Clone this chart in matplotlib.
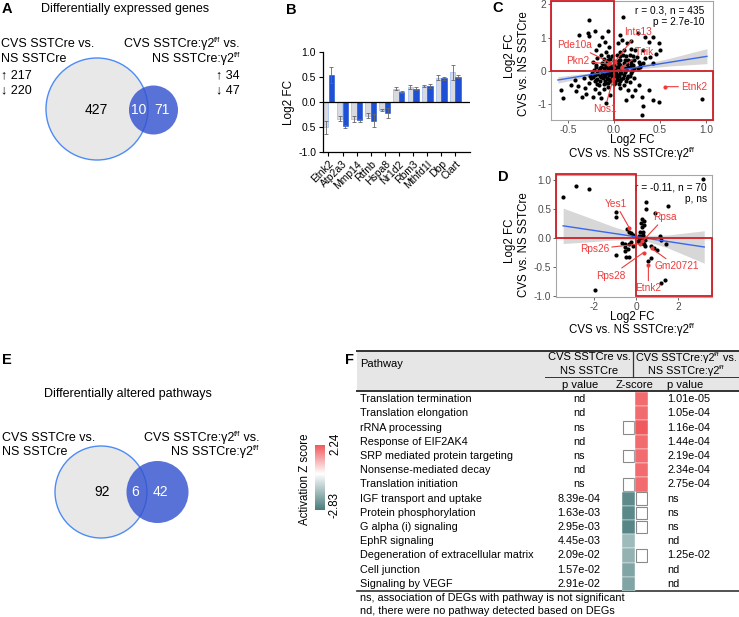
import numpy as np
import matplotlib
matplotlib.use('Agg')
import matplotlib.pyplot as plt
from matplotlib.patches import Circle, Rectangle
from matplotlib.colors import LinearSegmentedColormap, TwoSlopeNorm

plt.rcParams['font.family'] = ['Liberation Sans', 'DejaVu Sans']

# ---------------- data ----------------
# Panel A (Venn of DEGs)
deg_only_sst = 427
deg_shared = 10
deg_only_g2 = 71
deg_sst_up, deg_sst_down = 217, 220
deg_g2_up, deg_g2_down = 34, 47

# Panel B
genes = ['Etnk2', 'Atp2a3', 'Mmp14', 'Rtfnb', 'Hspa8', 'Nr1d2', 'Rbm3', 'Mthfd1l', 'Dbp', 'Ciart']
fc_sst = [-0.50, -0.33, -0.33, -0.27, -0.15, 0.27, 0.31, 0.33, 0.49, 0.60]
err_sst = [0.13, 0.05, 0.06, 0.05, 0.02, 0.03, 0.04, 0.02, 0.05, 0.15]
fc_g2 = [0.55, -0.48, -0.36, -0.37, -0.22, 0.20, 0.27, 0.33, 0.48, 0.51]
err_g2 = [0.16, 0.03, 0.03, 0.13, 0.10, 0.02, 0.03, 0.04, 0.03, 0.03]
b_yticks = [-1.0, -0.5, 0.0, 0.5, 1.0]
b_yticklabels = ['-1.0', '0.5', '0.0', '0.5', '1.0']

# Panel C scatter (x: CVS vs NS SSTCre:g2f/f, y: CVS vs NS SSTCre)
c_pts = [
    (0.10, 1.63), (-0.27, 1.53), (-0.21, 1.21), (-0.38, 1.08), (-0.28, 1.13), (-0.27, 1.05),
    (-0.07, 1.20), (-0.13, 1.01), (-0.10, 0.88), (-0.16, 0.78), (-0.05, 0.73), (-0.20, 0.63),
    (-0.09, 0.58), (-0.14, 0.48), (-0.06, 0.45), (-0.18, 0.38), (-0.11, 0.35), (-0.04, 0.35),
    (-0.08, 0.28), (-0.13, 0.23), (-0.09, 0.18), (-0.04, 0.18), (-0.14, 0.13), (-0.07, 0.10),
    (-0.02, 0.08), (-0.11, 0.08), (-0.20, 0.18), (-0.23, 0.28),
    (0.07, 1.08), (0.09, 0.93), (0.04, 0.83), (0.14, 0.83), (0.19, 0.90), (0.26, 1.13),
    (0.34, 1.01), (0.42, 1.03), (0.38, 0.88), (0.49, 0.85), (0.50, 0.63), (0.46, 0.51),
    (0.32, 0.63), (0.23, 0.63), (0.18, 0.65), (0.11, 0.63), (0.06, 0.58), (0.03, 0.48),
    (0.10, 0.48), (0.17, 0.48), (0.25, 0.43), (0.34, 0.38), (0.39, 0.43), (0.22, 0.33),
    (0.15, 0.33), (0.07, 0.33), (0.03, 0.28), (0.11, 0.23), (0.18, 0.21), (0.27, 0.28),
    (0.32, 0.23), (0.06, 0.18), (0.15, 0.13), (0.03, 0.13), (0.22, 0.08), (0.10, 0.08),
    (0.01, 0.03), (0.42, 0.23), (0.28, 0.13),
    (-0.58, -0.57), (-0.55, -0.82), (-0.47, -0.42), (-0.39, -0.45), (-0.41, -0.59), (-0.32, -0.52),
    (-0.30, -0.69), (-0.23, -0.79), (-0.21, -0.55), (-0.14, -0.82), (-0.16, -0.65), (-0.09, -0.95),
    (-0.35, -0.77), (-0.27, -0.35), (-0.20, -0.27), (-0.14, -0.19), (-0.11, -0.12), (-0.06, -0.07),
    (-0.16, -0.42), (-0.09, -0.35), (-0.06, -0.49), (-0.11, -0.55), (-0.04, -0.27), (-0.08, -0.22),
    (-0.02, -0.15), (-0.18, -0.09), (-0.23, -0.17), (-0.04, -0.72), (-0.42, -0.27), (-0.33, -0.22),
    (0.13, -0.87), (0.20, -0.75), (0.23, -0.57), (0.30, -0.77), (0.38, -0.57), (0.32, -1.05),
    (0.42, -0.87), (0.30, -1.32), (0.49, -0.92), (0.96, -0.85), (0.17, -0.32), (0.11, -0.42),
    (0.06, -0.52), (0.15, -0.57), (0.04, -0.27), (0.10, -0.22), (0.03, -0.12), (0.08, -0.07),
    (0.15, -0.15), (0.22, -0.22), (0.01, -0.37), (0.27, -0.42),
    (-0.20, 0.11), (-0.15, 0.09), (-0.09, 0.12), (-0.03, 0.10), (0.04, 0.11), (0.12, 0.09),
    (0.19, 0.12), (0.26, 0.10), (-0.22, 0.02), (-0.16, 0.03), (-0.10, 0.01), (-0.05, 0.03),
    (0.00, 0.01), (0.06, 0.03), (0.13, 0.02), (0.20, 0.01), (-0.24, -0.06), (-0.19, -0.05),
    (-0.13, -0.07), (-0.08, -0.05), (-0.03, -0.06), (0.02, -0.05), (0.07, -0.06), (0.12, -0.04),
    (0.18, -0.07), (-0.26, -0.14), (-0.21, -0.13), (-0.15, -0.15), (-0.10, -0.14), (-0.05, -0.13),
    (0.00, -0.15), (0.05, -0.14), (0.11, -0.13), (0.17, -0.15), (-0.25, -0.22), (-0.18, -0.23),
    (-0.12, -0.21), (-0.07, -0.23), (-0.02, -0.22), (0.03, -0.21), (0.08, -0.23), (0.14, -0.22),
    (-0.21, -0.30), (-0.15, -0.31), (-0.10, -0.29), (-0.04, -0.30), (0.01, -0.31), (0.07, -0.29),
    (0.13, -0.30), (-0.18, -0.38), (-0.11, -0.39), (-0.06, -0.37), (0.00, -0.38), (0.05, -0.39),
    (-0.12, 0.20), (-0.06, 0.21), (0.00, 0.19), (0.05, 0.21), (0.14, 0.20), (0.21, 0.19),
    (0.28, 0.21), (-0.07, 0.32), (0.00, 0.31), (0.05, 0.33), (0.12, 0.32), (0.19, 0.31),
    (-0.02, 0.45), (0.06, 0.44), (0.13, 0.46), (0.21, 0.45),
]
c_hl_names = ['Pde10a', 'Pkn2', 'Ints13', 'Tnik', 'Nos1', 'Etnk2']
c_hl_x = [-0.04, -0.06, 0.01, 0.09, -0.01, 0.55]
c_hl_y = [0.25, 0.21, 0.28, 0.13, -0.24, -0.47]
c_fit_x = [-0.61, -0.3, 0.0, 0.3, 0.6, 1.01]
c_fit_y = [-0.27, -0.13, 0.0, 0.13, 0.26, 0.44]
c_fit_lo = [-0.36, -0.19, -0.03, 0.07, 0.15, 0.22]
c_fit_hi = [-0.17, -0.07, 0.03, 0.19, 0.38, 0.67]

# Panel D scatter
d_pts = [
    (-3.47, 0.71), (-2.84, 0.90), (-2.25, 0.84), (-0.94, 0.44), (-0.94, 0.37), (3.17, 1.01),
    (0.48, 0.62), (1.53, 0.56), (0.48, 0.50), (0.91, 0.43), (0.28, 0.32), (0.36, 0.29),
    (0.25, 0.26), (0.36, 0.23), (0.28, 0.19), (-0.42, 0.16), (-0.34, 0.11), (-0.22, 0.09),
    (-0.16, 0.06), (0.20, 0.10), (0.31, 0.11), (0.13, 0.04), (0.25, 0.03), (0.36, 0.00),
    (0.20, -0.03), (0.44, -0.04), (-0.69, -0.09), (-0.50, -0.10), (-0.31, -0.11), (-0.53, -0.16),
    (-0.38, -0.19), (-0.16, -0.14), (-0.22, -0.07), (-0.97, -0.30), (-0.47, -0.33), (-0.34, -0.33),
    (-0.50, -0.23), (0.44, -0.13), (0.72, -0.14), (0.88, -0.17), (0.98, -0.20), (0.59, -0.39),
    (0.72, -0.34), (1.14, 0.03), (1.19, -0.04), (1.45, -0.11), (1.19, -0.78), (1.38, -0.72),
    (-1.94, -0.90), (0.28, -0.09), (0.16, -0.07), (0.38, -0.11), (0.15, 0.00), (0.25, -0.02),
    (0.32, 0.05), (0.10, -0.05), (0.35, -0.08),
]
d_hl_names = ['Yes1', 'Rpsa', 'Rps26', 'Rps28', 'Gm20721', 'Etnk2']
d_hl_x = [-0.31, 0.30, 0.20, 0.36, 0.74, 0.59]
d_hl_y = [0.17, -0.06, -0.10, -0.25, -0.18, -0.46]
d_fit_x = [-3.47, -2.0, -1.0, 0.0, 0.5, 1.5, 3.25]
d_fit_y = [0.21, 0.13, 0.076, 0.022, -0.005, -0.059, -0.155]
d_fit_hw = [0.305, 0.19, 0.11, 0.055, 0.05, 0.11, 0.28]

# Panel E (Venn of pathways)
pw_only_sst = 92
pw_shared = 6
pw_only_g2 = 42

# Panel F table
pathways = ['Translation termination', 'Translation elongation', 'rRNA processing',
            'Response of EIF2AK4', 'SRP mediated protein targeting', 'Nonsense-mediated decay',
            'Translation initiation', 'IGF transport and uptake', 'Protein phosphorylation',
            'G alpha (i) signaling', 'EphR signaling', 'Degeneration of extracellular matrix',
            'Cell junction', 'Signaling by VEGF']
p_sst = ['nd', 'nd', 'ns', 'nd', 'ns', 'nd', 'ns', '8.39e-04', '1.63e-03', '2.95e-03',
         '4.45e-03', '2.09e-02', '1.57e-02', '2.91e-02']
p_g2 = ['1.01e-05', '1.05e-04', '1.16e-04', '1.44e-04', '2.19e-04', '2.34e-04', '2.75e-04',
        'ns', 'ns', 'ns', 'nd', '1.25e-02', 'nd', 'nd']
nan = np.nan
z_sst = [nan, nan, 0, nan, 0, nan, 0, -2.5, -2.55, -2.6, -1.5, -1.65, -1.95, -1.95]
z_g2 = [2.0, 2.0, 2.24, 2.0, 2.0, 2.0, 2.0, 0, 0, 0, nan, 0, nan, nan]
z_min, z_max = -2.83, 2.24

# ---------------- figure ----------------
W, H = 739, 617
fig = plt.figure(figsize=(W / 100, H / 100), dpi=100)
renderer = fig.canvas.get_renderer()


def px_axes(x0, y0, x1, y1, **kw):
    return fig.add_axes([x0 / W, 1 - y1 / H, (x1 - x0) / W, (y1 - y0) / H], **kw)


ov = px_axes(0, 0, W, H)
ov.set_xlim(0, W)
ov.set_ylim(H, 0)
ov.axis('off')

RED = '#ee3b3b'
RECT = '#cc1f26'
GRAYTXT = '#4d4d4d'


def sup_text(x, y, pre, sup, post, fs, ha='left', color='black'):
    """Draw pre + superscript + post on the pixel overlay."""
    parts = [(pre, fs, 0.0), (sup, fs * 0.6, -fs * 0.42), (post, fs, 0.0)]
    widths = []
    for s, f, _ in parts:
        if not s:
            widths.append(0.0)
            continue
        t = ov.text(0, 0, s, fontsize=f)
        widths.append(t.get_window_extent(renderer).width)
        t.remove()
    total = sum(widths)
    x0 = {'left': x, 'right': x - total, 'center': x - total / 2}[ha]
    for (s, f, dy), w in zip(parts, widths):
        if s:
            ov.text(x0, y + dy, s, fontsize=f, ha='left', va='center', color=color)
        x0 += w


# panel letters
for lab, (x, y) in {'A': (7, 9), 'B': (291, 10), 'C': (498, 8), 'D': (503, 177),
                    'E': (7, 360), 'F': (350, 360)}.items():
    ov.text(x, y, lab, fontsize=10.5, fontweight='bold', ha='center', va='center')

# ---- Panel A venn ----
ov.text(125, 9, 'Differentially expressed genes', fontsize=9, ha='center', va='center')
ov.add_patch(Circle((97, 109), 51, fc='#e8e8e8', ec='#4d8cf5', lw=1.0))
ov.add_patch(Circle((153.5, 110), 24.5, fc='#3553d0', ec='none', alpha=0.82))
ov.text(96, 110, str(deg_only_sst), fontsize=10, ha='center', va='center')
ov.text(139, 110, str(deg_shared), fontsize=10, ha='center', va='center', color='white')
ov.text(162, 110, str(deg_only_g2), fontsize=10, ha='center', va='center', color='white')
ov.text(1, 44, 'CVS SSTCre vs.', fontsize=9, ha='left', va='center')
ov.text(1, 59, 'NS SSTCre', fontsize=9, ha='left', va='center')
ov.text(1, 75, '\u2191 %d' % deg_sst_up, fontsize=9, ha='left', va='center')
ov.text(1, 90, '\u2193 %d' % deg_sst_down, fontsize=9, ha='left', va='center')
sup_text(240, 44, 'CVS SSTCre:\u03b32', 'f/f', ' vs.', 9, ha='right')
sup_text(240, 59, 'NS SSTCre:\u03b32', 'f/f', '', 9, ha='right')
ov.text(216, 75, '\u2191 %d' % deg_g2_up, fontsize=9, ha='left', va='center')
ov.text(216, 90, '\u2193 %d' % deg_g2_down, fontsize=9, ha='left', va='center')

# ---- Panel B ----
axB = px_axes(323, 52, 470, 152)
xs = np.arange(len(genes))
ekw = dict(ecolor='#666666', elinewidth=0.6, capsize=1.3, capthick=0.6)
axB.bar(xs - 0.2, fc_sst, width=0.38, color='#d9dadf', edgecolor='#a7c3f2', lw=0.6,
        yerr=err_sst, error_kw=ekw)
axB.bar(xs + 0.2, fc_g2, width=0.38, color='#1e50d6', edgecolor='#1e50d6', lw=0.4,
        yerr=err_g2, error_kw=ekw)
axB.axhline(0, color='black', lw=0.9)
axB.set_xlim(-0.39, 10.04)
axB.set_ylim(-1, 1)
axB.set_yticks(b_yticks)
axB.set_yticklabels(b_yticklabels)
axB.set_xticks(xs)
axB.set_xticklabels(genes, rotation=45, ha='right', va='top', rotation_mode='anchor')
for s in ('top', 'right'):
    axB.spines[s].set_visible(False)
for s in ('left', 'bottom'):
    axB.spines[s].set_linewidth(0.9)
axB.tick_params(labelsize=7.5, length=3, width=0.8, pad=2)
axB.set_ylabel('Log2 FC', fontsize=8.5, labelpad=2)


def style_gg(ax):
    for s in ax.spines.values():
        s.set_color('#a6a6a6')
        s.set_linewidth(0.8)
    ax.tick_params(labelsize=7.3, length=2.5, width=0.6, color=GRAYTXT,
                   labelcolor=GRAYTXT, pad=1.0)


# ---- Panel C ----
axC = px_axes(551, 1, 713, 120)
cx = [p[0] for p in c_pts]
cy = [p[1] for p in c_pts]
axC.set_xlim(-0.685, 1.076)
axC.set_ylim(-1.47, 2.10)
axC.fill_between(c_fit_x, c_fit_lo, c_fit_hi, color='#bdbdbd', alpha=0.6, lw=0, zorder=1)
axC.scatter(cx, cy, s=9, color='black', lw=0, zorder=2)
axC.plot(c_fit_x, c_fit_y, color='#3a66f0', lw=1.0, zorder=3)
axC.scatter(c_hl_x, c_hl_y, s=9, color=RED, lw=0, zorder=4)
axC.add_patch(Rectangle((-0.685, 0), 0.685, 2.10, fill=False, ec=RECT, lw=1.3, zorder=5, clip_on=False))
axC.add_patch(Rectangle((0, -1.47), 1.076, 1.47, fill=False, ec=RECT, lw=1.3, zorder=5, clip_on=False))
c_lab_pos = [(-0.43, 0.78), (-0.40, 0.31), (0.26, 1.16), (0.33, 0.58), (-0.10, -1.14), (0.87, -0.47)]
for name, x, y, (tx, ty) in zip(c_hl_names, c_hl_x, c_hl_y, c_lab_pos):
    axC.annotate(name, (x, y), xytext=(tx, ty), fontsize=7.3, color=RED, ha='center', va='center',
                 zorder=6, arrowprops=dict(arrowstyle='-', color=RED, lw=0.8, shrinkA=0, shrinkB=0))
axC.text(0.945, 0.92, 'r = 0.3, n = 435', transform=axC.transAxes, ha='right', va='center',
         fontsize=7.3)
axC.text(0.945, 0.82, 'p = 2.7e-10', transform=axC.transAxes, ha='right', va='center',
         fontsize=7.3)
axC.set_xticks([-0.5, 0.0, 0.5, 1.0])
axC.set_xticklabels(['-0.5', '0.0', '0.5', '1.0'])
axC.set_yticks([-1, 0, 1, 2])
axC.set_yticklabels(['-1', '0', '1', '2'])
style_gg(axC)
ov.text(510, 56, 'Log2 FC', rotation=90, fontsize=8.3, ha='center', va='center')
ov.text(524, 64, 'CVS vs. NS SSTCre', rotation=90, fontsize=8.3, ha='center', va='center')
ov.text(632, 140, 'Log2 FC', fontsize=8.3, ha='center', va='center')
sup_text(632, 154, 'CVS vs. NS SSTCre:\u03b32', 'f/f', '', 8.3, ha='center')

# ---- Panel D ----
axD = px_axes(556, 175, 712, 297)
dx = [p[0] for p in d_pts]
dy = [p[1] for p in d_pts]
axD.set_xlim(-3.81, 3.62)
axD.set_ylim(-1.017, 1.086)
d_lo = [f - h for f, h in zip(d_fit_y, d_fit_hw)]
d_hi = [f + h for f, h in zip(d_fit_y, d_fit_hw)]
axD.fill_between(d_fit_x, d_lo, d_hi, color='#bdbdbd', alpha=0.6, lw=0, zorder=1)
axD.scatter(dx, dy, s=9, color='black', lw=0, zorder=2)
axD.plot(d_fit_x, d_fit_y, color='#3a66f0', lw=1.0, zorder=3)
axD.scatter(d_hl_x, d_hl_y, s=9, color=RED, lw=0, zorder=4)
axD.add_patch(Rectangle((-3.81, 0), 3.81, 1.10, fill=False, ec=RECT, lw=1.3, zorder=5, clip_on=False))
axD.add_patch(Rectangle((0, -1.0), 3.62, 1.0, fill=False, ec=RECT, lw=1.3, zorder=5, clip_on=False))
d_lab_pos = [(-0.97, 0.59), (1.38, 0.36), (-1.98, -0.19), (-1.2, -0.65), (1.95, -0.49), (0.59, -0.87)]
for name, x, y, (tx, ty) in zip(d_hl_names, d_hl_x, d_hl_y, d_lab_pos):
    axD.annotate(name, (x, y), xytext=(tx, ty), fontsize=7.3, color=RED, ha='center', va='center',
                 zorder=6, arrowprops=dict(arrowstyle='-', color=RED, lw=0.8, shrinkA=0, shrinkB=0))
axD.text(0.968, 0.90, 'r = -0.11, n = 70', transform=axD.transAxes, ha='right', va='center',
         fontsize=7.3)
axD.text(0.968, 0.80, 'p, ns', transform=axD.transAxes, ha='right', va='center', fontsize=7.3)
axD.set_xticks([-2, 0, 2])
axD.set_xticklabels(['-2', '0', '2'])
axD.set_yticks([-1.0, -0.5, 0.0, 0.5, 1.0])
axD.set_yticklabels(['-1.0', '-0.5', '0.0', '0.5', '1.0'])
style_gg(axD)
ov.text(510, 241, 'Log2 FC', rotation=90, fontsize=8.3, ha='center', va='center')
ov.text(524, 245, 'CVS vs. NS SSTCre', rotation=90, fontsize=8.3, ha='center', va='center')
ov.text(632, 317, 'Log2 FC', fontsize=8.3, ha='center', va='center')
sup_text(632, 330, 'CVS vs. NS SSTCre:\u03b32', 'f/f', '', 8.3, ha='center')

# ---- Panel E venn ----
ov.text(128, 394, 'Differentially altered pathways', fontsize=9, ha='center', va='center')
ov.add_patch(Circle((101, 492), 46, fc='#e8e8e8', ec='#4d8cf5', lw=1.0))
ov.add_patch(Circle((157.5, 492), 31, fc='#3553d0', ec='none', alpha=0.82))
ov.text(102, 492, str(pw_only_sst), fontsize=10, ha='center', va='center')
ov.text(135, 492, str(pw_shared), fontsize=10, ha='center', va='center', color='white')
ov.text(160, 492, str(pw_only_g2), fontsize=10, ha='center', va='center', color='white')
ov.text(2, 438, 'CVS SSTCre vs.', fontsize=9, ha='left', va='center')
ov.text(2, 452, 'NS SSTCre', fontsize=9, ha='left', va='center')
sup_text(260, 438, 'CVS SSTCre:\u03b32', 'f/f', ' vs.', 9, ha='right')
sup_text(259, 452, 'NS SSTCre:\u03b32', 'f/f', '', 9, ha='right')

# ---- colorbar ----
cmap = LinearSegmentedColormap.from_list('zc', ['#4a7c7d', '#ffffff', '#f05a5e'])
norm = TwoSlopeNorm(vmin=z_min, vcenter=0, vmax=z_max)
cax = px_axes(315, 445, 325, 510)
cax.imshow(np.linspace(z_max, z_min, 200)[:, None], cmap=cmap, norm=norm, aspect='auto')
cax.axis('off')
ov.text(305, 479, 'Activation Z score', rotation=90, fontsize=8.3, ha='center', va='center')
ov.text(335, 444, '%.2f' % z_max, rotation=90, fontsize=8.3, ha='center', va='center')
ov.text(335, 505, '%.2f' % z_min, rotation=90, fontsize=8.3, ha='center', va='center')

# ---- Panel F table ----
FS = 7.8
ov.add_patch(Rectangle((357, 351), W - 357, 40, fc='#e6e6e6', ec='none'))
ov.plot([357, W], [351, 351], color='#333333', lw=1.4)
ov.plot([357, W], [391, 391], color='#333333', lw=1.4)
ov.plot([357, W], [591, 591], color='#333333', lw=1.2)
ov.plot([545, W], [377, 377], color='#333333', lw=0.7)
ov.plot([633, 633], [351, 377], color='#333333', lw=0.9)
ov.text(360, 364, 'Pathway', fontsize=8, ha='left', va='center')
ov.text(589, 357.5, 'CVS SSTCre vs.', fontsize=8, ha='center', va='center')
ov.text(589, 370.5, 'NS SSTCre', fontsize=8, ha='center', va='center')
sup_text(686, 358, 'CVS SSTCre:\u03b32', 'f/f', ' vs.', 7.8, ha='center')
sup_text(686, 371, 'NS SSTCre:\u03b32', 'f/f', '', 7.8, ha='center')
ov.text(580, 385, 'p value', fontsize=8, ha='center', va='center')
ov.text(635, 385, 'Z-score', fontsize=8, ha='center', va='center')
ov.text(667, 385, 'p value', fontsize=8, ha='left', va='center')

tax = px_axes(357, 392, W, 591)
tax.set_xlim(357, W)
tax.set_ylim(len(pathways), 0)
tax.axis('off')
for i, name in enumerate(pathways):
    yc = i + 0.5
    tax.text(360, yc, name, fontsize=FS, ha='left', va='center')
    tax.text(579, yc, p_sst[i], fontsize=FS, ha='center', va='center')
    tax.text(667, yc, p_g2[i], fontsize=FS, ha='left', va='center')

zax = px_axes(622, 392, 648, 591)
zax.set_xlim(0, 2)
zax.set_ylim(len(pathways), 0)
zax.axis('off')
for i in range(len(pathways)):
    for j, zv in enumerate((z_sst[i], z_g2[i])):
        if np.isnan(zv):
            continue
        if zv == 0:
            zax.add_patch(Rectangle((j + 0.04, i + 0.06), 0.92, 0.88, fc='white', ec='#8a8a8a', lw=0.8))
        else:
            zax.add_patch(Rectangle((j, i), 1, 1, fc=cmap(norm(zv)), ec='#ffffff', lw=0.3))

ov.text(360, 598, 'ns, association of DEGs with pathway is not significant', fontsize=FS,
        ha='left', va='center')
ov.text(360, 611.5, 'nd, there were no pathway detected based on DEGs', fontsize=FS,
        ha='left', va='center')

fig.savefig('out.png', dpi=100)
